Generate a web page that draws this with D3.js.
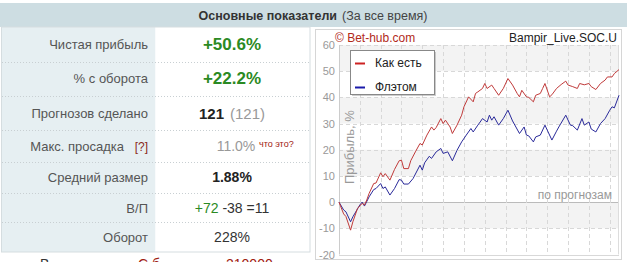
<!DOCTYPE html>
<html lang="ru">
<meta charset="utf-8">
<head>
    <script src='https://d3js.org/d3.v7.min.js'></script>
    <style>
        body { margin:0; background:#fff; }
        svg { display:block; font-family:'Liberation Sans', Arial, sans-serif; }
    </style>
</head>
<body>
</body>

<script>
    var width = 627, height = 262;

    // table rows: label, value
    var rowLabels = ['Чистая прибыль', '% с оборота', 'Прогнозов сделано', 'Макс. просадка', 'Средний размер', 'В/П', 'Оборот'];
    var rowCenters = [44, 78, 113, 146, 177, 208, 237];

    // chart data: [prediction no, profit %]
    var kakEst = [[0,0],[2,-4.5],[3,-5.5],[5,-10.7],[6,-7.5],[8,-2.4],[10,-0.5],[11,-1.1],[12,0.8],[13,3.3],[15,7.1],[16,7.3],[18,11.2],[19,9.7],[20,10.9],[22,8.4],[24,12.5],[26,15.8],[27,16],[28,12.8],[30,12.8],[31,15.8],[33,19.2],[35,22.4],[36,21.8],[38,25.6],[40,28.7],[41,27.5],[42,28.5],[44,31.9],[45,30],[46,31.3],[48,28.7],[49,26.2],[51,29.4],[53,33.2],[54,36.4],[56,40.2],[58,38.3],[59,41.5],[60,42.1],[62,43.4],[63,45.3],[64,43.4],[66,44.7],[67,43.4],[69,40.8],[71,43.4],[73,47.2],[75,44.7],[77,41.5],[78,40.2],[79,42.7],[81,40.2],[82,40],[84,38.3],[85,40.8],[87,41.5],[88,43.4],[89,45.3],[91,40.2],[92,41],[94,43.4],[96,44.9],[98,46.2],[99,44.7],[101,44.1],[103,43.4],[104,45.3],[106,44.8],[108,45.3],[109,44.1],[111,43],[113,45.3],[115,46.6],[116,47.8],[118,47.8],[119,49.1],[121,50.6]];
    var flatom = [[0,0],[2,-3],[3,-3.7],[5,-7.5],[6,-5.6],[9,-1.1],[10,0],[11,-1.5],[13,2],[15,4.8],[16,5.2],[18,7.1],[19,5.2],[20,5.8],[22,2.7],[24,5.2],[26,8.6],[27,8.4],[28,6.9],[30,6.9],[32,9],[35,14.1],[36,12.2],[37,15],[39,17.5],[40,16.7],[42,19.2],[44,20.5],[45,18.6],[47,19.2],[49,15.8],[51,19.8],[53,23],[55,25.6],[57,28.1],[58,26.8],[60,29.4],[61,30.6],[62,31.9],[64,30.6],[65,33.2],[66,31.3],[67,32.6],[69,29.4],[71,31.9],[73,35.1],[75,31],[78,26.2],[80,28.7],[81,25.6],[82,25.3],[84,23],[85,24.9],[87,25.6],[89,29.4],[90,27.5],[92,23.7],[94,27.1],[95,28.7],[98,33.2],[100,29.4],[101,29.2],[103,27.5],[105,31.9],[106,29.4],[108,30.6],[109,27.9],[111,26.8],[113,30],[115,31.9],[117,35.1],[118,36.4],[119,36],[121,40.8]];
    var yTicks = [-20, -10, 0, 10, 20, 30, 40, 50, 60];
    var xGrid = [9, 18, 27, 36, 45, 54, 63, 72, 81, 90, 99, 108, 117];
    var bands = [[50,60],[30,40],[10,20],[-10,0]];

    var svg = d3.select('body').append('svg').attr('width', width).attr('height', height);

    // ---- header
    svg.append('rect').attr('x',0).attr('y',3).attr('width',width).attr('height',24).attr('fill','#cddde2');
    var head = svg.append('text').attr('x',313).attr('y',20).attr('text-anchor','middle').attr('font-size',12.5).attr('fill','#333');
    head.append('tspan').attr('font-weight','bold').text('Основные показатели');
    head.append('tspan').attr('fill','#444').attr('dx',5).text('(За все время)');

    // ---- table
    svg.append('rect').attr('x',1.5).attr('y',27).attr('width',154).attr('height',225).attr('fill','#e6eff2');
    svg.append('rect').attr('x',155.5).attr('y',27).attr('width',154.5).attr('height',225).attr('fill','#fff');
    svg.append('rect').attr('x',1.5).attr('y',27).attr('width',308.5).attr('height',225)
        .attr('fill','none').attr('stroke','#d5dde0');

    var seps = [62, 96, 130, 162, 193, 222];
    svg.selectAll('.sep').data(seps).join('line').attr('class','sep')
        .attr('x1',2).attr('x2',310).attr('y1',function(d){return d+0.5}).attr('y2',function(d){return d+0.5})
        .attr('stroke','#c8cfd2').attr('stroke-dasharray','1,2');

    svg.selectAll('.lbl').data(rowLabels).join('text').attr('class','lbl')
        .attr('x',function(d,i){return i===3 ? 124 : 148}).attr('y',function(d,i){return rowCenters[i]+5})
        .attr('text-anchor','end').attr('font-size',13).attr('fill','#555')
        .text(function(d){return d});
    svg.append('text').attr('x',148).attr('y',rowCenters[3]+5).attr('text-anchor','end')
        .attr('font-size',12).attr('fill','#8b2a1a').text('[?]');

    var cx = 232;
    svg.append('text').attr('x',cx).attr('y',rowCenters[0]+6).attr('text-anchor','middle')
        .attr('font-size',17).attr('font-weight','bold').attr('fill','#2b8a23').text('+50.6%');
    svg.append('text').attr('x',cx).attr('y',rowCenters[1]+6).attr('text-anchor','middle')
        .attr('font-size',17).attr('font-weight','bold').attr('fill','#2b8a23').text('+22.2%');
    var r3 = svg.append('text').attr('x',cx).attr('y',rowCenters[2]+6).attr('text-anchor','middle').attr('font-size',15);
    r3.append('tspan').attr('font-weight','bold').attr('fill','#222').text('121');
    r3.append('tspan').attr('fill','#999').attr('dx',6).text('(121)');
    svg.append('text').attr('x',236).attr('y',rowCenters[3]+5).attr('text-anchor','middle')
        .attr('font-size',14).attr('fill','#999').text('11.0%');
    svg.append('text').attr('x',259).attr('y',rowCenters[3]+1).attr('font-size',9).attr('fill','#a0200f').text('что это?');
    svg.append('text').attr('x',cx).attr('y',rowCenters[4]+5).attr('text-anchor','middle')
        .attr('font-size',14).attr('font-weight','bold').attr('fill','#222').text('1.88%');
    var r6 = svg.append('text').attr('x',cx).attr('y',rowCenters[5]+5).attr('text-anchor','middle').attr('font-size',14);
    r6.append('tspan').attr('fill','#2b8a23').text('+72');
    r6.append('tspan').attr('fill','#333').text(' -38');
    r6.append('tspan').attr('fill','#333').text(' =11');
    svg.append('text').attr('x',cx).attr('y',rowCenters[6]+5).attr('text-anchor','middle')
        .attr('font-size',14).attr('fill','#333').text('228%');

    // cut-off line under the table (as in the screenshot)
    var cut = svg.append('text').attr('x',40).attr('y',269).attr('font-size',14).attr('fill','#333');
    cut.append('tspan').text('В');
    cut.append('tspan').attr('x',138).attr('fill','#a0200f').text('С б');
    cut.append('tspan').attr('x',226).attr('fill','#a0200f').text('210000');

    // ---- chart panel
    svg.append('rect').attr('x',315.5).attr('y',29.5).attr('width',306).attr('height',230)
        .attr('fill','#fff').attr('stroke','#d6d6d6');

    var x = d3.scaleLinear().domain([0,121]).range([339,619]);
    var y = d3.scaleLinear().domain([-20,60]).range([254.5,45]);

    svg.selectAll('.band').data(bands).join('rect').attr('class','band')
        .attr('x',x(0)).attr('width',x(121)-x(0))
        .attr('y',function(d){return y(d[1])}).attr('height',function(d){return y(d[0])-y(d[1])})
        .attr('fill','#f3f3f3');

    svg.selectAll('.hg').data(yTicks).join('line').attr('class','hg')
        .attr('x1',x(0)).attr('x2',x(121))
        .attr('y1',function(d){return Math.round(y(d))+0.5}).attr('y2',function(d){return Math.round(y(d))+0.5})
        .attr('stroke',function(d){return d===0 ? '#bbb' : '#d8d8d8'})
        .attr('stroke-dasharray',function(d){return (d===0||d===-20) ? null : '4,3'});

    svg.selectAll('.vg').data(xGrid).join('line').attr('class','vg')
        .attr('x1',function(d){return Math.round(x(d))+0.5}).attr('x2',function(d){return Math.round(x(d))+0.5})
        .attr('y1',y(60)).attr('y2',y(-20))
        .attr('stroke','#d8d8d8').attr('stroke-dasharray','4,3');

    svg.append('line').attr('x1',x(0)+0.5).attr('x2',x(0)+0.5).attr('y1',y(60)).attr('y2',y(-20)).attr('stroke','#ccc');
    svg.append('line').attr('x1',x(121)-0.5).attr('x2',x(121)-0.5).attr('y1',y(60)).attr('y2',y(-20)).attr('stroke','#ddd');

    svg.selectAll('.yt').data(yTicks).join('text').attr('class','yt')
        .attr('x',335).attr('y',function(d){return y(d)+4})
        .attr('text-anchor','end').attr('font-size',11).attr('fill','#999')
        .text(function(d){return d});

    svg.append('text').attr('transform','translate(354,184) rotate(-90)')
        .attr('font-size',13).attr('fill','#999').text('Прибыль, %');
    svg.append('text').attr('x',612).attr('y',199).attr('text-anchor','end')
        .attr('font-size',12).attr('fill','#999').text('по прогнозам');

    var line = d3.line().x(function(d){return x(d[0])}).y(function(d){return y(d[1])});
    svg.append('path').datum(flatom).attr('d',line).attr('fill','none').attr('stroke','#2a2a9a').attr('stroke-width',1);
    svg.append('path').datum(kakEst).attr('d',line).attr('fill','none').attr('stroke','#c03a3a').attr('stroke-width',1);

    svg.append('text').attr('x',335).attr('y',42).attr('font-size',12).attr('fill','#b22a1a').text('© Bet-hub.com');
    svg.append('text').attr('x',617).attr('y',42).attr('text-anchor','end').attr('font-size',12).attr('fill','#222').text('Bampir_Live.SOC.U');

    // legend
    var lg = svg.append('g');
    lg.append('rect').attr('x',352).attr('y',52).attr('width',84).attr('height',44).attr('fill','#999').attr('opacity',0.5);
    lg.append('rect').attr('x',350.5).attr('y',50.5).attr('width',84).attr('height',44).attr('fill','#fff').attr('stroke','#888');
    var legItems = [['Как есть','#cc2222'],['Флэтом','#1a1aaa']];
    legItems.forEach(function(d,i){
        lg.append('line').attr('x1',355).attr('x2',365).attr('y1',63.5+i*24).attr('y2',63.5+i*24).attr('stroke',d[1]).attr('stroke-width',2);
        lg.append('text').attr('x',375).attr('y',67+i*24).attr('font-size',12).attr('fill','#222').text(d[0]);
    });
    console.log('ready..');
</script>
